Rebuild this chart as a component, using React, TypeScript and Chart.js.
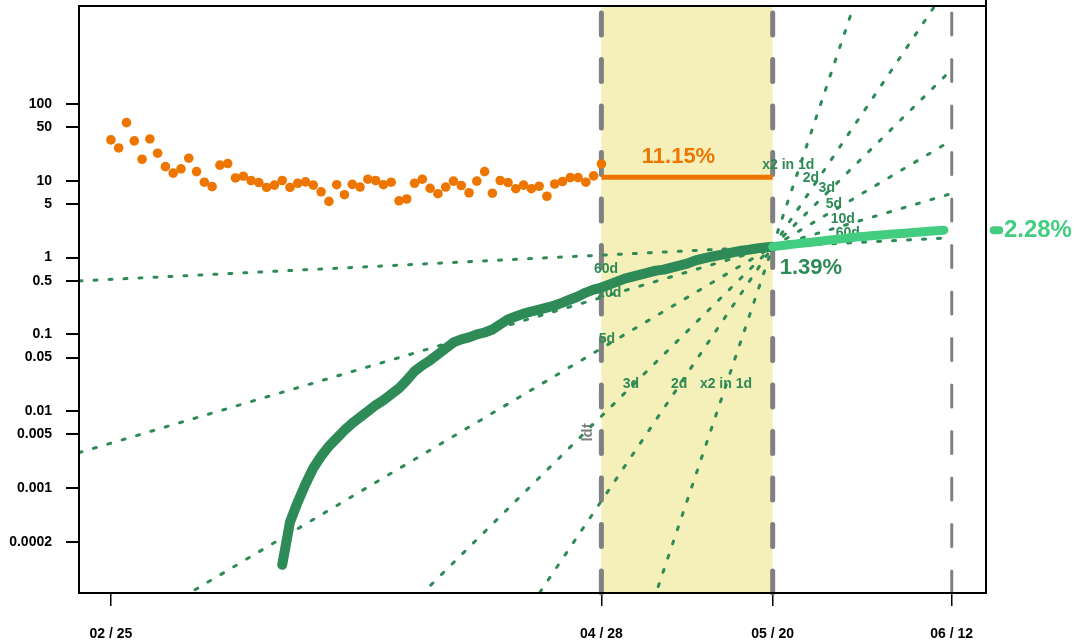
import React, { useEffect, useRef } from 'react';
import { Chart, registerables } from 'chart.js';

Chart.register(...registerables);

const FONT = "'Liberation Sans', Arial, Helvetica, sans-serif";

// x axis: days since 02/25 ; y axis: logarithmic percentage
const xMinDay = -4.1;
const xMaxDay = 112.4;
const yMinValue = 4.3e-5;
const yMaxValue = 1890;

const xTickDays = [0, 63, 85, 108];
const xTickLabels = ['02 / 25', '04 / 28', '05 / 20', '06 / 12'];
const yTickValues = [0.0002, 0.001, 0.005, 0.01, 0.05, 0.1, 0.5, 1, 5, 10, 50, 100];

// daily growth rate (orange dots), days 0..63
const growthStartDay = 0;
const growthRate = [
  34.1, 26.8, 57.2, 33.1, 19.1, 35.1, 22.9, 15.3, 12.6, 14.3,
  19.7, 13.2, 9.6, 8.4, 16.0, 16.8, 10.9, 11.5, 10.1, 9.5,
  8.2, 8.8, 10.1, 8.2, 9.3, 9.7, 8.8, 7.2, 5.4, 8.9,
  6.6, 9.0, 8.3, 10.5, 10.1, 8.9, 9.6, 5.5, 5.8, 9.3,
  10.5, 8.0, 6.8, 8.3, 9.9, 8.7, 7.0, 9.9, 13.2, 6.9,
  10.1, 9.5, 7.9, 8.8, 7.9, 8.5, 6.3, 9.1, 9.8, 11.0,
  11.0, 9.6, 11.6, 16.6,
];

// cumulative share (dark green), days 22..85
const cumulativeStartDay = 22;
const cumulativeRate = [
  0.0001, 0.00036, 0.00066, 0.00113, 0.00182, 0.0026, 0.0035, 0.00446, 0.00567, 0.00699,
  0.00836, 0.01, 0.012, 0.0139, 0.0166, 0.0199, 0.0253, 0.0331, 0.0396, 0.046,
  0.055, 0.0658, 0.0787, 0.0861, 0.0914, 0.1, 0.106, 0.116, 0.135, 0.157,
  0.171, 0.187, 0.199, 0.211, 0.224, 0.238, 0.26, 0.285, 0.312, 0.351,
  0.384, 0.408, 0.446, 0.488, 0.534, 0.567, 0.601, 0.638, 0.678, 0.699,
  0.742, 0.787, 0.836, 0.914, 0.97, 1.02, 1.07, 1.12, 1.18, 1.23,
  1.27, 1.32, 1.36, 1.39,
];

// projection (light green), days 85..107
const projectionStartDay = 85;
const projectionRate = [
  1.39, 1.43, 1.47, 1.51, 1.55, 1.59, 1.63, 1.68, 1.72, 1.77,
  1.82, 1.87, 1.9, 1.94, 1.97, 2.01, 2.05, 2.08, 2.12, 2.16,
  2.2, 2.24, 2.28,
];

const windowStartDay = 63;
const windowEndDay = 85;
const horizonDay = 108;
const windowMeanGrowth = 11.15;

// doubling-time guide lines through the last observed point
const anchorDay = 85;
const anchorValue = 1.39;
const doublingDays = [1, 2, 3, 5, 10, 60];
const doublingNames = ['x2 in 1d', '2d', '3d', '5d', '10d', '60d'];
const leftLabelDays = [79.0, 73.0, 66.8, 63.7, 64.0, 63.6];
const leftLabelValues = [0.0224, 0.0224, 0.0224, 0.086, 0.34, 0.7];
const rightLabelDays = [87.0, 89.9, 91.95, 92.85, 94.0, 94.65];
const rightLabelValues = [16.1, 10.96, 8.1, 5.03, 3.21, 2.11];

const growthText = '11.15%';
const growthTextDay = 72.9;
const growthTextValue = 20.5;
const lastText = '1.39%';
const lastTextDay = 85.9;
const lastTextValue = 0.74;
const projText = '2.28%';
const projTextDay = 114.7;
const projDotDays = [113.4, 114.1];
const projTextValue = 2.28;
const ldtText = 'ldt';
const ldtDay = 61.2;
const ldtValue = 0.0053;

const ORANGE = '#EE7600';
const DARK = '#2E8B57';
const LIGHT = '#43CD80';
const GREY = '#808080';
const BAND = '#F5EFB9';

const decorPlugin = {
  id: 'decor',
  beforeDatasetsDraw(chart: any) {
    const { ctx, chartArea, scales } = chart;
    const x = scales.x;
    const y = scales.y;
    ctx.save();
    const xa = x.getPixelForValue(windowStartDay);
    const xb = x.getPixelForValue(windowEndDay);
    ctx.fillStyle = BAND;
    ctx.fillRect(xa, chartArea.top, xb - xa, chartArea.bottom - chartArea.top);
    ctx.strokeStyle = GREY;
    ctx.lineCap = 'round';
    ctx.setLineDash([22, 24.5]);
    const lines: [number, number][] = [[windowStartDay, 5], [windowEndDay, 5], [horizonDay, 3]];
    lines.forEach(([d, w]) => {
      const px = x.getPixelForValue(d);
      ctx.lineWidth = w;
      ctx.beginPath();
      ctx.moveTo(px, chartArea.bottom);
      ctx.lineTo(px, 0);
      ctx.stroke();
    });
    ctx.setLineDash([]);
    ctx.translate(x.getPixelForValue(ldtDay), y.getPixelForValue(ldtValue));
    ctx.rotate(-Math.PI / 2);
    ctx.fillStyle = GREY;
    ctx.font = `bold 15px ${FONT}`;
    ctx.textAlign = 'center';
    ctx.textBaseline = 'middle';
    ctx.fillText(ldtText, 0, 0);
    ctx.restore();
  },
  beforeDatasetDraw(chart: any, args: any) {
    if (args.index !== 1) return;
    const { ctx, scales } = chart;
    const x = scales.x;
    const y = scales.y;
    ctx.save();
    ctx.fillStyle = DARK;
    ctx.font = `bold 14px ${FONT}`;
    ctx.textAlign = 'center';
    ctx.textBaseline = 'middle';
    doublingNames.forEach((name, i) => {
      ctx.fillText(name, x.getPixelForValue(leftLabelDays[i]), y.getPixelForValue(leftLabelValues[i]));
      ctx.fillText(name, x.getPixelForValue(rightLabelDays[i]), y.getPixelForValue(rightLabelValues[i]));
    });
    ctx.restore();
  },
  afterDatasetsDraw(chart: any) {
    const { ctx, scales } = chart;
    const x = scales.x;
    const y = scales.y;
    ctx.save();
    ctx.textBaseline = 'middle';
    ctx.font = `bold 22px ${FONT}`;
    ctx.fillStyle = ORANGE;
    ctx.textAlign = 'center';
    ctx.fillText(growthText, x.getPixelForValue(growthTextDay), y.getPixelForValue(growthTextValue));
    ctx.fillStyle = DARK;
    ctx.textAlign = 'left';
    ctx.fillText(lastText, x.getPixelForValue(lastTextDay), y.getPixelForValue(lastTextValue));
    ctx.font = `bold 24px ${FONT}`;
    ctx.fillStyle = LIGHT;
    ctx.fillText(projText, x.getPixelForValue(projTextDay), y.getPixelForValue(projTextValue));
    ctx.strokeStyle = LIGHT;
    ctx.lineWidth = 8;
    ctx.lineCap = 'round';
    ctx.beginPath();
    ctx.moveTo(x.getPixelForValue(projDotDays[0]), y.getPixelForValue(projTextValue));
    ctx.lineTo(x.getPixelForValue(projDotDays[1]), y.getPixelForValue(projTextValue));
    ctx.stroke();
    ctx.restore();
  },
  afterDraw(chart: any) {
    const { ctx, chartArea } = chart;
    ctx.save();
    ctx.strokeStyle = '#000';
    ctx.lineWidth = 2;
    ctx.strokeRect(chartArea.left, chartArea.top, chartArea.right - chartArea.left, chartArea.bottom - chartArea.top);
    ctx.beginPath();
    ctx.moveTo(chartArea.right, 0);
    ctx.lineTo(chartArea.right, chartArea.top);
    ctx.stroke();
    ctx.restore();
  },
};

const zeroPad = (scale: any) => {
  scale.paddingTop = 0;
  scale.paddingBottom = 0;
  scale.paddingLeft = 0;
  scale.paddingRight = 0;
};

export default function App() {
  const ref = useRef<HTMLCanvasElement>(null);
  useEffect(() => {
    const growthPts = growthRate.map((v, i) => ({ x: growthStartDay + i, y: v }));
    const cumPts = cumulativeRate.map((v, i) => ({ x: cumulativeStartDay + i, y: v }));
    const projPts = projectionRate.map((v, i) => ({ x: projectionStartDay + i, y: v }));
    const fanSets: any[] = [];
    doublingDays.forEach((d) => {
      fanSets.push({
        data: [
          { x: xMinDay, y: anchorValue * Math.pow(2, (xMinDay - anchorDay) / d) },
          { x: anchorDay, y: anchorValue },
        ],
      });
      fanSets.push({
        data: [
          { x: anchorDay, y: anchorValue },
          { x: horizonDay, y: anchorValue * Math.pow(2, (horizonDay - anchorDay) / d) },
        ],
      });
    });
    const fanStyled = fanSets.map((s) => ({
      ...s,
      borderColor: DARK,
      borderWidth: 3,
      borderDash: [3, 12],
      borderCapStyle: 'round',
      pointRadius: 0,
      fill: false,
      clip: 0,
      order: 2,
    }));
    const chart = new Chart(ref.current as HTMLCanvasElement, {
      type: 'line',
      data: {
        datasets: [
          {
            data: projPts,
            borderColor: LIGHT,
            borderWidth: 9,
            borderCapStyle: 'round',
            borderJoinStyle: 'round',
            pointRadius: 0,
            order: 0,
          } as any,
          {
            data: cumPts,
            borderColor: DARK,
            borderWidth: 10,
            borderCapStyle: 'round',
            borderJoinStyle: 'round',
            pointRadius: 0,
            order: 1,
          },
          ...fanStyled,
          {
            data: [
              { x: windowStartDay, y: windowMeanGrowth },
              { x: windowEndDay, y: windowMeanGrowth },
            ],
            borderColor: ORANGE,
            borderWidth: 5,
            borderCapStyle: 'butt',
            pointRadius: 0,
            order: 3,
          },
          {
            data: growthPts,
            showLine: false,
            pointRadius: 4.8,
            pointBorderWidth: 0,
            pointBackgroundColor: ORANGE,
            borderColor: ORANGE,
            order: 4,
          },
        ],
      },
      options: {
        responsive: false,
        animation: false,
        layout: { padding: { top: 6, right: 96, left: 0, bottom: 0 } },
        plugins: { legend: { display: false }, tooltip: { enabled: false } },
        elements: { line: { tension: 0 } },
        scales: {
          x: {
            type: 'linear',
            min: xMinDay,
            max: xMaxDay,
            afterBuildTicks: (scale: any) => {
              scale.ticks = xTickDays.map((v) => ({ value: v }));
            },
            afterFit: (scale: any) => {
              scale.height = 49;
              zeroPad(scale);
            },
            border: { display: false },
            grid: { drawOnChartArea: false, drawTicks: true, tickLength: 13, color: '#000', lineWidth: 1.5 },
            ticks: {
              autoSkip: false,
              maxRotation: 0,
              padding: 20,
              color: '#000',
              font: { family: FONT, size: 14, weight: 'bold' },
              callback: (value: any) => {
                const i = xTickDays.indexOf(Number(value));
                return i >= 0 ? xTickLabels[i] : '';
              },
            },
          },
          y: {
            type: 'logarithmic',
            min: yMinValue,
            max: yMaxValue,
            afterBuildTicks: (scale: any) => {
              scale.ticks = yTickValues.map((v) => ({ value: v }));
            },
            afterFit: (scale: any) => {
              scale.width = 79;
              zeroPad(scale);
            },
            border: { display: false },
            grid: { drawOnChartArea: false, drawTicks: true, tickLength: 13, color: '#000', lineWidth: 2 },
            ticks: {
              autoSkip: false,
              padding: 14,
              color: '#000',
              font: { family: FONT, size: 14, weight: 'bold' },
              callback: (value: any) => String(value),
            },
          },
        },
      } as any,
      plugins: [decorPlugin],
    });
    return () => chart.destroy();
  }, []);
  return (
    <div style={{ position: 'fixed', left: 0, top: 0, width: 1082, height: 642, background: '#fff' }}>
      <canvas ref={ref} width={1082} height={642} style={{ width: 1082, height: 642, display: 'block' }} />
    </div>
  );
}
